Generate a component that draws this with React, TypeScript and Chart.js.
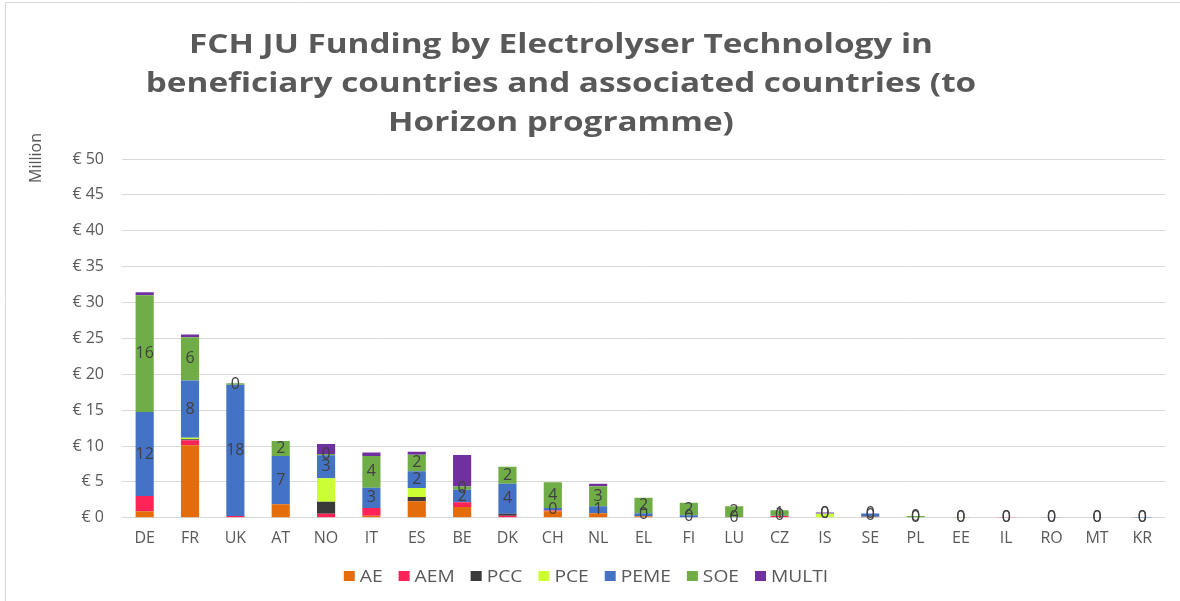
import React, { useEffect, useRef } from 'react';
import { Chart, registerables } from 'chart.js';

Chart.register(...registerables);

const categories = ['DE', 'FR', 'UK', 'AT', 'NO', 'IT', 'ES', 'BE', 'DK', 'CH', 'NL', 'EL', 'FI', 'LU', 'CZ', 'IS', 'SE', 'PL', 'EE', 'IL', 'RO', 'MT', 'KR'];

const AE = [0.93, 10.1, 0, 1.9, 0, 0.3, 2.3, 1.5, 0, 0.9, 0.65, 0.2, 0, 0, 0.1, 0, 0.15, 0, 0, 0, 0, 0, 0];
const AEM = [2.1, 0.7, 0.25, 0, 0.55, 1.05, 0, 0.65, 0.3, 0.1, 0, 0, 0, 0, 0.15, 0, 0, 0, 0, 0.1, 0, 0, 0];
const PCC = [0, 0.15, 0, 0, 1.7, 0, 0.6, 0, 0.25, 0, 0, 0, 0, 0, 0, 0, 0, 0, 0, 0, 0, 0, 0];
const PCE = [0, 0.2, 0, 0, 3.25, 0, 1.25, 0, 0, 0, 0, 0, 0, 0, 0, 0.55, 0, 0, 0, 0, 0, 0, 0];
const PEME = [11.7, 8.0, 18.3, 6.7, 3.2, 2.85, 2.35, 1.75, 4.2, 0.35, 0.95, 0.45, 0.35, 0.1, 0.05, 0.05, 0.45, 0, 0, 0, 0.1, 0.08, 0.02];
const SOE = [16.3, 6.0, 0.2, 2.1, 0.2, 4.4, 2.3, 0.45, 2.35, 3.6, 2.8, 2.15, 1.75, 1.5, 0.75, 0, 0, 0.25, 0.1, 0, 0, 0, 0];
const MULTI = [0.4, 0.4, 0, 0, 1.4, 0.5, 0.4, 4.4, 0, 0, 0.35, 0, 0, 0, 0, 0.15, 0, 0, 0, 0, 0, 0, 0];

const seriesNames = ['AE', 'AEM', 'PCC', 'PCE', 'PEME', 'SOE', 'MULTI'];
const seriesValues = [AE, AEM, PCC, PCE, PEME, SOE, MULTI];
const seriesColors = ['#E46C0A', '#FF2357', '#3A3A3A', '#CCFF33', '#4472C4', '#70AD47', '#7030A0'];
const labelledSeries = ['PEME', 'SOE'];

const titleLines = [
  'FCH JU Funding by Electrolyser Technology in',
  'beneficiary countries and associated countries (to',
  'Horizon programme)',
];
const yAxisTitle = 'Million';
const yMax = 50;
const yStep = 5;

const TEXT = '#595959';
const GRID = '#d9d9d9';
const FONT = "'Open Sans', sans-serif";

const decorPlugin = {
  id: 'decor',
  beforeDraw(chart: any) {
    const ctx = chart.ctx;
    ctx.save();
    ctx.fillStyle = '#ffffff';
    ctx.fillRect(0, 0, chart.width, chart.height);
    ctx.strokeStyle = GRID;
    ctx.lineWidth = 1;
    ctx.beginPath();
    ctx.moveTo(5.5, chart.height);
    ctx.lineTo(5.5, 2.5);
    ctx.lineTo(chart.width, 2.5);
    ctx.stroke();

    // title
    ctx.fillStyle = TEXT;
    ctx.font = `bold 26px ${FONT}`;
    ctx.textAlign = 'center';
    ctx.textBaseline = 'middle';
    titleLines.forEach((line, i) => {
      ctx.save();
      ctx.translate(561, 46 + i * 39);
      ctx.scale(1.28, 1);
      ctx.fillText(line, 0, 0);
      ctx.restore();
    });

    // y axis title
    ctx.save();
    ctx.translate(36, 158);
    ctx.rotate(-Math.PI / 2);
    ctx.font = `16px ${FONT}`;
    ctx.fillText(yAxisTitle, 0, 0);
    ctx.restore();

    // legend
    ctx.font = `16px ${FONT}`;
    ctx.textAlign = 'left';
    const sx = 1.2;
    const boxW = 11;
    const boxH = 10;
    const gapBox = 5;
    const gapItem = 16;
    const widths = seriesNames.map((n) => ctx.measureText(n).width * sx);
    const total = widths.reduce((a, w) => a + boxW + gapBox + w, 0) + gapItem * (seriesNames.length - 1);
    let x = 586 - total / 2;
    const ly = 576;
    seriesNames.forEach((n, i) => {
      ctx.fillStyle = seriesColors[i];
      ctx.fillRect(x, ly - boxH / 2, boxW, boxH);
      ctx.fillStyle = TEXT;
      ctx.save();
      ctx.translate(x + boxW + gapBox, ly + 1);
      ctx.scale(sx, 1);
      ctx.fillText(n, 0, 0);
      ctx.restore();
      x += boxW + gapBox + widths[i] + gapItem;
    });
    ctx.restore();
  },
  afterDatasetsDraw(chart: any) {
    const ctx = chart.ctx;
    ctx.save();
    ctx.fillStyle = '#404040';
    ctx.font = `16px ${FONT}`;
    ctx.textAlign = 'center';
    ctx.textBaseline = 'middle';
    chart.data.datasets.forEach((ds: any, di: number) => {
      if (!labelledSeries.includes(ds.label)) return;
      const meta = chart.getDatasetMeta(di);
      meta.data.forEach((el: any, i: number) => {
        const { x, y, base } = el.getProps(['x', 'y', 'base'], true);
        ctx.fillText(String(Math.round(ds.data[i])), x, (y + base) / 2);
      });
    });
    ctx.restore();
  },
};

export default function App() {
  const ref = useRef<HTMLCanvasElement | null>(null);

  useEffect(() => {
    if (!ref.current) return;
    const chart = new Chart(ref.current, {
      type: 'bar',
      data: {
        labels: categories,
        datasets: seriesNames.map((name, i) => ({
          label: name,
          data: seriesValues[i],
          backgroundColor: seriesColors[i],
          borderWidth: 0,
          barPercentage: 0.4,
          categoryPercentage: 1,
        })),
      },
      options: {
        animation: false,
        responsive: true,
        maintainAspectRatio: false,
        layout: { padding: { top: 159, right: 15, bottom: 50, left: 0 } },
        plugins: {
          title: { display: false },
          tooltip: { enabled: false },
          legend: { display: false },
        },
        scales: {
          x: {
            stacked: true,
            grid: { display: false },
            border: { display: false },
            ticks: {
              color: TEXT,
              font: { family: FONT, size: 16 },
              padding: 3,
              maxRotation: 0,
              autoSkip: false,
            },
          },
          y: {
            stacked: true,
            min: 0,
            max: yMax,
            grid: { color: GRID, drawTicks: false },
            border: { display: false },
            ticks: {
              stepSize: yStep,
              color: TEXT,
              font: { family: FONT, size: 16 },
              padding: 18,
              callback: (v: any) => '€ ' + v,
            },
            afterFit: (scale: any) => {
              scale.width = 122;
            },
          },
        },
      },
      plugins: [decorPlugin],
    });
    return () => chart.destroy();
  }, []);

  return (
    <div style={{ position: 'fixed', left: 0, top: 0, width: 1180, height: 601, background: '#fff' }}>
      <canvas ref={ref} />
    </div>
  );
}
